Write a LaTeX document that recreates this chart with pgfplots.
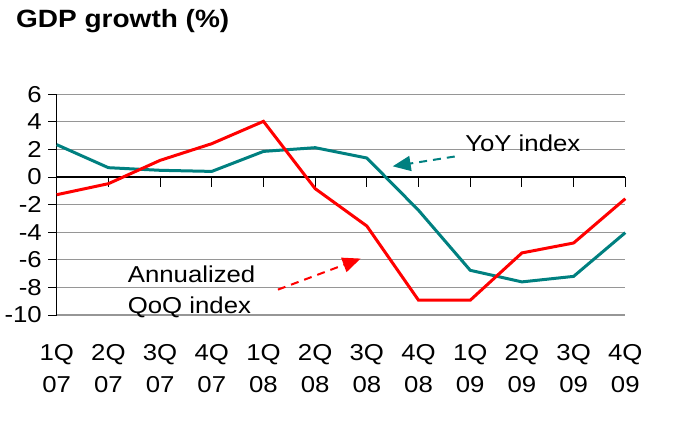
\documentclass[border=0pt]{standalone}
\usepackage{pgfplots}
\pgfplotsset{compat=1.18}
\usepackage{fontspec}
\setmainfont[FakeStretch=1.12]{Liberation Sans}
\usetikzlibrary{arrows.meta}
\definecolor{myteal}{RGB}{0,128,128}
\definecolor{myred}{RGB}{255,0,0}
\definecolor{gridgray}{RGB}{150,150,150}
\begin{document}
\fontsize{23}{32}\selectfont
\begin{tikzpicture}[x=1pt,y=1pt]
\useasboundingbox (0,0) rectangle (697,421);
\node[anchor=base west, inner sep=0pt, font=\bfseries\fontsize{25}{30}\selectfont] at (16,393) {GDP growth (\%)};
\begin{axis}[
  at={(56.7pt,106pt)}, anchor=south west,
  scale only axis, width=568.6pt, height=220.7pt,
  xmin=0, xmax=11, ymin=-10, ymax=6,
  enlargelimits=false, clip=false,
  axis y line*=left, axis x line*=bottom,
  x axis line style={draw=gridgray, line width=1.2pt},
  y axis line style={draw=black, line width=1.2pt},
  ytick={-10,-8,...,6},
  ymajorgrids, grid style={gridgray, line width=1.2pt},
  xtick={0,...,11},
  xticklabels={1Q\\07,2Q\\07,3Q\\07,4Q\\07,1Q\\08,2Q\\08,3Q\\08,4Q\\08,1Q\\09,2Q\\09,3Q\\09,4Q\\09},
  xtick style={draw=none},
  ytick style={draw=black, line width=1pt},
  tick align=outside, major tick length=8.7pt,
  /pgf/number format/assume math mode=true,
  tick label style={font=\fontsize{23}{32}\selectfont},
  xticklabel style={align=center, inner sep=0pt, anchor=north, yshift=-21pt},
  yticklabel style={anchor=east, inner sep=0pt},
  yticklabel shift=6pt,
]
\draw[black, line width=1.2pt] (axis cs:0,0) -- (axis cs:11,0);
\pgfplotsinvokeforeach{1,...,11}{\draw[black, line width=1pt] (axis cs:#1,0) -- ++(0pt,-10pt);}
\addplot[myteal, line width=3pt, mark=none] coordinates {
 (0,2.35) (1,0.68) (2,0.49) (3,0.41) (4,1.86) (5,2.13) (6,1.38) (7,-2.41) (8,-6.76) (9,-7.6) (10,-7.2) (11,-4.03)};
\addplot[myred, line width=3pt, mark=none] coordinates {
 (0,-1.28) (1,-0.48) (2,1.21) (3,2.42) (4,4.04) (5,-0.84) (6,-3.55) (7,-8.93) (8,-8.93) (9,-5.5) (10,-4.78) (11,-1.57)};
\draw[myteal, line width=2pt, dash pattern=on 8pt off 6pt, -{Triangle[length=18pt,width=15pt]}] (axis cs:7.70,1.49) -- (axis cs:6.50,0.78);
\draw[myred, line width=2pt, dash pattern=on 8pt off 6pt, -{Triangle[length=18pt,width=15pt]}] (axis cs:4.28,-8.16) -- (axis cs:5.88,-5.91);
\node[anchor=base west, inner sep=0pt] at (axis cs:7.90,1.88) {YoY index};
\node[anchor=base west, inner sep=0pt] at (axis cs:1.373,-7.68) {Annualized};
\node[anchor=base west, inner sep=0pt] at (axis cs:1.373,-9.90) {QoQ index};
\end{axis}
\end{tikzpicture}
\end{document}
